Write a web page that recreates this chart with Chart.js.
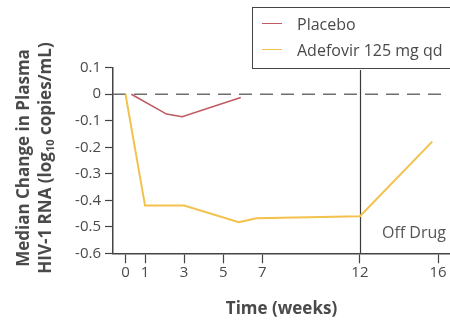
<!DOCTYPE html>
<html>
<head>
<meta charset="utf-8">
<script src="https://cdn.jsdelivr.net/npm/chart.js@4"></script>
<style>
  html, body { margin: 0; padding: 0; background: #fff; }
  #wrap { position: relative; width: 450px; height: 322px; overflow: hidden; font-family: "Open Sans", sans-serif; color: #4a4a4a; }
  #c { position: absolute; left: 0; top: 0; }
  #ytitle { position: absolute; left: 34px; top: 158px; width: 280px; transform: translate(-50%, -50%) rotate(-90deg);
            text-align: center; font-weight: bold; font-size: 17px; line-height: 22px; color: #4a4a4a; white-space: nowrap; }
  #ytitle sub { font-size: 11px; vertical-align: -3px; line-height: 0; }
  #legend { position: absolute; left: 252px; top: 6.5px; width: 200px; height: 62px; border: 1.5px solid #444; box-sizing: border-box; }
  .item { position: absolute; left: 0; height: 20px; font-size: 16px; line-height: 20px; color: #4a4a4a; white-space: nowrap; }
  .item .sw { position: absolute; left: 9px; top: 9px; width: 20px; height: 0; border-top: 1.5px solid; }
  .item .tx { position: absolute; left: 44px; top: 0; }
  #offdrug { position: absolute; left: 382px; top: 221px; font-size: 16px; line-height: 22px; color: #555; }
</style>
</head>
<body>
<div id="wrap">
  <canvas id="c" width="450" height="322"></canvas>
  <div id="ytitle">Median Change in Plasma<br>HIV-1 RNA (log<sub>10</sub> copies/mL)</div>
  <div id="legend"></div>
  <div id="offdrug">Off Drug</div>
</div>
<script>
// ---- data ----
const seriesNames = ["Placebo", "Adefovir 125 mg qd"];
const placeboWeeks = [0.3, 2.1, 2.9, 5.9];
const placeboValues = [0, -0.075, -0.085, -0.012];
const adefovirWeeks = [0, 1, 3, 5.8, 6.7, 12, 15.7];
const adefovirValues = [0, -0.42, -0.42, -0.483, -0.468, -0.46, -0.179];
const xTickValues = [0, 1, 3, 5, 7, 12, 16];
const yTickValues = [0.1, 0, -0.1, -0.2, -0.3, -0.4, -0.5, -0.6];
const offDrugWeek = 12;
const baselineValue = 0;

const colors = ["#c05a62", "#f2c24c"];
const ink = "#4a4a4a";

function pts(xs, ys) { return xs.map((x, i) => ({ x: x, y: ys[i] })); }

// HTML legend built from series
const legendEl = document.getElementById('legend');
seriesNames.forEach((name, i) => {
  const d = document.createElement('div');
  d.className = 'item';
  d.style.top = (i === 0 ? 6 : 32) + 'px';
  d.innerHTML = '<span class="sw" style="border-color:' + colors[i] + '"></span><span class="tx">' + name + '</span>';
  legendEl.appendChild(d);
});

const refLines = {
  id: 'refLines',
  beforeDatasetsDraw(chart) {
    const { ctx, chartArea, scales } = chart;
    const x = scales.x, y = scales.y;
    ctx.save();
    // dashed baseline
    const yb = y.getPixelForValue(baselineValue);
    ctx.strokeStyle = '#6e6e6e';
    ctx.lineWidth = 1.5;
    ctx.setLineDash([13, 8]);
    ctx.beginPath();
    ctx.moveTo(chartArea.left, yb);
    ctx.lineTo(chartArea.right - 2, yb);
    ctx.stroke();
    // off-drug vertical line
    ctx.setLineDash([]);
    ctx.strokeStyle = '#3a3a3a';
    ctx.lineWidth = 1.2;
    const xv = Math.round(x.getPixelForValue(offDrugWeek)) + 0.5;
    ctx.beginPath();
    ctx.moveTo(xv, chartArea.bottom);
    ctx.lineTo(xv, 70);
    ctx.stroke();
    ctx.restore();
  }
};

new Chart(document.getElementById('c'), {
  type: 'line',
  data: {
    datasets: [
      { label: seriesNames[0], data: pts(placeboWeeks, placeboValues), borderColor: colors[0], borderWidth: 1.6, pointRadius: 0, tension: 0 },
      { label: seriesNames[1], data: pts(adefovirWeeks, adefovirValues), borderColor: colors[1], borderWidth: 2, pointRadius: 0, tension: 0 }
    ]
  },
  options: {
    responsive: false,
    animation: false,
    layout: { padding: { top: 67.7, right: 0, left: 0, bottom: 0 } },
    plugins: { legend: { display: false }, tooltip: { enabled: false } },
    scales: {
      x: {
        type: 'linear',
        min: -0.64, max: 16.61,
        afterBuildTicks: s => { s.ticks = xTickValues.map(v => ({ value: v })); },
        afterFit: s => { s.height = 68.7; },
        ticks: { color: ink, font: { family: 'Open Sans', size: 15 }, padding: 0, maxRotation: 0, autoSkip: false,
                 callback: v => String(v) },
        grid: { drawOnChartArea: false, tickLength: 10, color: '#444', tickWidth: 1.2 },
        border: { color: '#444', width: 1.5 },
        title: { display: true, text: 'Time (weeks)', color: ink, font: { family: 'Open Sans', size: 17, weight: 'bold' }, padding: { top: 0, bottom: 3 } }
      },
      y: {
        type: 'linear',
        min: -0.6, max: 0.1,
        afterBuildTicks: s => { s.ticks = yTickValues.map(v => ({ value: v })); },
        afterFit: s => { s.width = 113; },
        ticks: { color: ink, font: { family: 'Open Sans', size: 15 }, padding: 4,
                 callback: v => { const r = Math.round(v * 10) / 10; return r === 0 ? '0' : r.toFixed(1); } },
        grid: { drawOnChartArea: false, tickLength: 8, color: '#444', tickWidth: 1.2 },
        border: { color: '#444', width: 1.5 }
      }
    }
  },
  plugins: [refLines]
});
</script>
</body>
</html>
